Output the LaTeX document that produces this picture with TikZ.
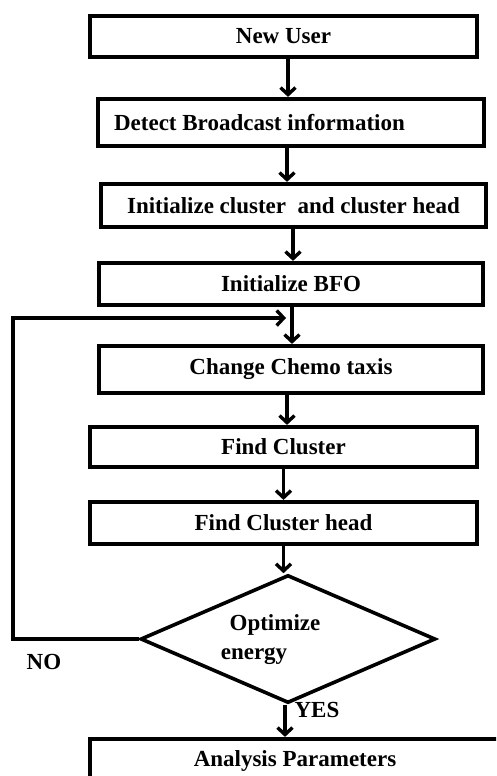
\documentclass[tikz,border=0pt]{standalone}
\usepackage{fontspec}
\setmainfont{Liberation Serif}
\usetikzlibrary{arrows.meta,shapes.geometric}
\tikzset{
  stepbox/.style={draw, line width=4.2pt, rectangle, inner sep=0pt, font=\fontsize{23}{26}\selectfont\bfseries},
  arr/.style={line width=3.4pt, -{Straight Barb[length=7pt,width=15pt]}},
  lbl/.style={font=\fontsize{23}{26}\selectfont\bfseries, inner sep=0pt},
  decision/.style={draw, diamond, line width=3.6pt, inner sep=0pt, minimum width=295pt, minimum height=128pt, aspect=2.3}
}
\begin{document}
\begin{tikzpicture}[x=1pt,y=-1pt]
\useasboundingbox (0,0) rectangle (496,776);
\clip (0,0) rectangle (496,776);
\node[stepbox, minimum width=387pt, minimum height=41pt] (n1) at (283.5,36.5) {New User};
\node[stepbox, minimum width=386pt, minimum height=47pt] (n2) at (291,122.5) {Detect Broadcast information\hspace*{63pt}};
\node[stepbox, minimum width=385pt, minimum height=43pt] (n3) at (293.5,205.5) {Initialize cluster \ and cluster head};
\node[stepbox, minimum width=384pt, minimum height=42pt] (n4) at (291,284) {Initialize BFO};
\node[stepbox, minimum width=384pt, minimum height=47pt] (n5) at (291,369.5) {Change Chemo taxis};
\node[stepbox, minimum width=387pt, minimum height=40pt] (n6) at (283.5,447) {Find Cluster};
\node[stepbox, minimum width=387pt, minimum height=42pt] (n7) at (283.5,523) {Find Cluster head};
\node[decision] (d) at (288,639) {};
\node[lbl] (t1) at (275,625) {Optimize};
\node[lbl] (t2) at (254,656) {energy};
\node[stepbox, minimum width=410pt, minimum height=44pt] (n9) at (295,761) {Analysis Parameters};
\node[lbl] (no) at (44,662) {NO};
\node[lbl] (yes) at (317,710) {YES};
\coordinate (lp) at (286,318);
\draw[arr] ([xshift=4.5pt]n1.south) -- ([xshift=-3pt]n2.north);
\draw[arr] ([xshift=-4pt]n2.south) -- ([xshift=-6.5pt]n3.north);
\draw[arr] ([xshift=-0.5pt]n3.south) -- ([xshift=2pt]n4.north);
\draw[arr] ([xshift=1pt]n4.south) -- ([xshift=1pt]n5.north);
\draw[arr] ([xshift=-4pt]n5.south) -- ([xshift=3.5pt]n6.north);
\draw[arr] (n6.south) -- (n7.north);
\draw[arr] (n7.south) -- ([xshift=-4.5pt]d.north);
\draw[arr] ([xshift=-3pt]d.south) -- ([xshift=-10pt]n9.north);
\draw[arr] (d.west) -- (13,639) -- (13,318) -- (lp);
\end{tikzpicture}
\end{document}
